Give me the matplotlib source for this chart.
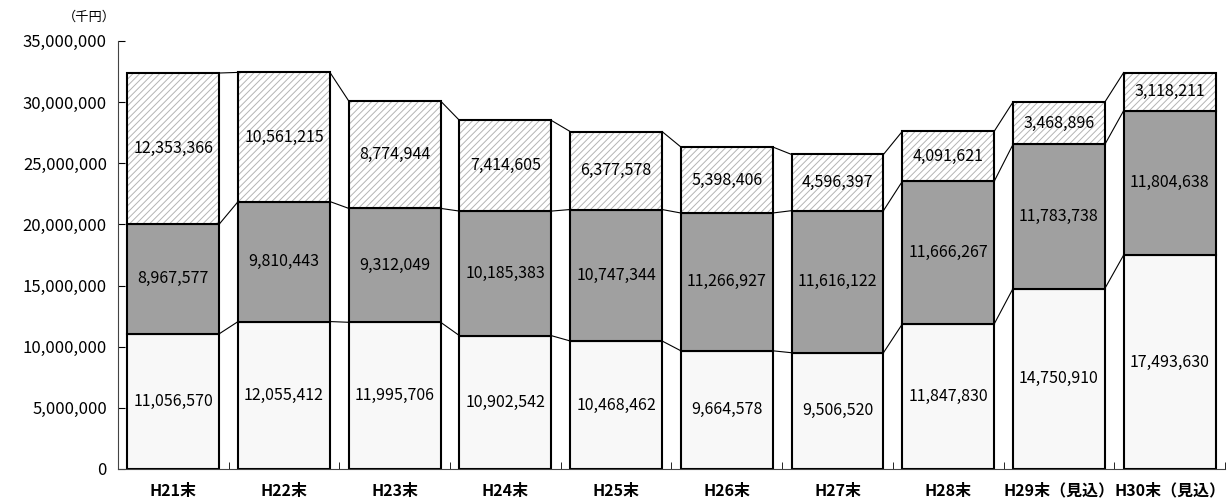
import matplotlib
matplotlib.use('Agg')
import matplotlib.pyplot as plt
from matplotlib.ticker import FuncFormatter, FixedLocator
import numpy as np

plt.rcParams['font.family'] = ['Noto Sans CJK JP', 'DejaVu Sans']
plt.rcParams['hatch.color'] = '#b4b4b4'
plt.rcParams['hatch.linewidth'] = 0.7

categories = ['H21末', 'H22末', 'H23末', 'H24末', 'H25末', 'H26末', 'H27末', 'H28末',
              'H29末（見込）', 'H30末（見込）']
bottom_vals = [11056570, 12055412, 11995706, 10902542, 10468462, 9664578, 9506520,
               11847830, 14750910, 17493630]
middle_vals = [8967577, 9810443, 9312049, 10185383, 10747344, 11266927, 11616122,
               11666267, 11783738, 11804638]
top_vals = [12353366, 10561215, 8774944, 7414605, 6377578, 5398406, 4596397,
            4091621, 3468896, 3118211]
y_ticks = [0, 5000000, 10000000, 15000000, 20000000, 25000000, 30000000, 35000000]

fig = plt.figure(figsize=(12.29, 5.03), dpi=100)
ax = fig.add_axes([0.096, 0.0676, 0.9007, 0.851])

x = np.arange(len(categories))
width = 0.83
b = np.array(bottom_vals)
m = np.array(middle_vals)
t = np.array(top_vals)

ax.bar(x, b, width, color='#f8f8f8', edgecolor='black', linewidth=1.5, zorder=2)
ax.bar(x, m, width, bottom=b, color='#a0a0a0', edgecolor='black', linewidth=1.5, zorder=2)
# hatched top segment, then a plain outline on top
ax.bar(x, t, width, bottom=b + m, color='white', edgecolor='#b4b4b4', hatch='/////',
       linewidth=0, zorder=2)
ax.bar(x, t, width, bottom=b + m, fill=False, edgecolor='black', linewidth=1.5, zorder=3)

# series lines between bars
for level in (b, b + m, b + m + t):
    for i in range(len(x) - 1):
        ax.plot([x[i] + width / 2, x[i + 1] - width / 2], [level[i], level[i + 1]],
                color='black', linewidth=0.8, zorder=1)

for i in range(len(x)):
    ax.text(x[i], b[i] / 2, f'{b[i]:,}', ha='center', va='center', fontsize=11.5, zorder=4)
    ax.text(x[i], b[i] + m[i] / 2, f'{m[i]:,}', ha='center', va='center', fontsize=11.5, zorder=4)
    ax.text(x[i], b[i] + m[i] + t[i] / 2, f'{t[i]:,}', ha='center', va='center',
            fontsize=11.5, zorder=4)

ax.set_xlim(-0.5, len(x) - 0.5)
ax.set_ylim(0, 35000000)
ax.yaxis.set_major_locator(FixedLocator(y_ticks))
ax.yaxis.set_major_formatter(FuncFormatter(lambda v, p: f'{int(v):,}'))
ax.tick_params(axis='y', direction='in', length=5, labelsize=12, pad=8)

ax.set_xticks(x)
ax.set_xticklabels(categories, fontsize=11.5, fontweight='bold')
ax.tick_params(axis='x', length=0, pad=10)
ax.set_xticks(np.arange(-0.5, len(x), 1.0), minor=True)
ax.tick_params(axis='x', which='minor', direction='in', length=5)

for s in ('top', 'right'):
    ax.spines[s].set_visible(False)
ax.spines['left'].set_color('#444444')
ax.spines['bottom'].set_color('#444444')

fig.text(0.051, 0.966, '（千円）', fontsize=9.5, ha='left', va='center')

fig.savefig('out.png', dpi=100)
